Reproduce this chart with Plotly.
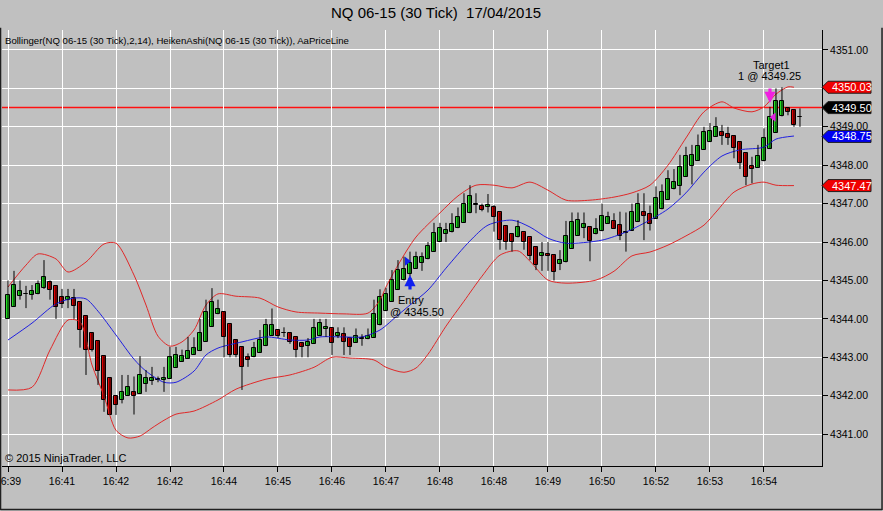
import plotly.graph_objects as go

# Heiken Ashi bars, NQ 06-15 (30 Tick)
bar_index = list(range(133))

opens = [
    4344.00, 4344.31, 4344.60, 4344.64, 4344.63, 4344.66, 4344.80, 4344.95, 4344.85, 4344.58,
    4344.50, 4344.54, 4344.43, 4344.07, 4343.64, 4343.42, 4343.03, 4342.47, 4342.00, 4341.89,
    4341.99, 4342.10, 4342.05, 4342.30, 4342.38, 4342.42, 4342.41, 4342.44, 4342.72, 4342.88,
    4342.96, 4343.06, 4343.16, 4343.40, 4343.80, 4344.12, 4344.19, 4343.86, 4343.46, 4343.28,
    4343.02, 4343.00, 4343.12, 4343.29, 4343.56, 4343.70, 4343.63, 4343.64, 4343.52, 4343.36,
    4343.30, 4343.35, 4343.56, 4343.73, 4343.75, 4343.56, 4343.60, 4343.50, 4343.38, 4343.48,
    4343.47, 4343.51, 4343.83, 4344.20, 4344.45, 4344.75, 4345.00, 4345.16, 4345.31, 4345.45,
    4345.55, 4345.75, 4346.00, 4346.20, 4346.25, 4346.36, 4346.50, 4346.75, 4346.97, 4346.95,
    4346.92, 4346.92, 4346.77, 4346.42, 4346.22, 4346.12, 4346.25, 4346.12, 4345.88, 4345.64,
    4345.69, 4345.66, 4345.42, 4345.47, 4345.82, 4346.16, 4346.36, 4346.40, 4346.20, 4346.28,
    4346.48, 4346.56, 4346.45, 4346.24, 4346.29, 4346.52, 4346.77, 4346.72, 4346.60, 4346.87,
    4347.10, 4347.37, 4347.47, 4347.70, 4347.97, 4348.11, 4348.40, 4348.60, 4348.74, 4348.87,
    4348.82, 4348.76, 4348.60, 4348.32, 4347.99, 4347.94, 4348.10, 4348.42, 4348.85, 4349.27,
    4349.48, 4349.43, 4349.25,
]
highs = [
    4345.00, 4345.25, 4345.00, 4344.86, 4344.88, 4345.00, 4345.53, 4345.00, 4344.85, 4344.78,
    4344.78, 4344.78, 4344.43, 4344.07, 4343.64, 4343.42, 4343.03, 4342.47, 4342.00, 4342.54,
    4342.54, 4342.50, 4343.03, 4342.67, 4342.75, 4342.50, 4342.75, 4343.27, 4343.27, 4343.20,
    4343.53, 4343.52, 4344.00, 4344.50, 4344.80, 4344.50, 4344.19, 4343.86, 4343.46, 4343.28,
    4343.10, 4343.40, 4343.71, 4344.00, 4344.27, 4343.70, 4343.78, 4343.64, 4343.52, 4343.40,
    4343.50, 4344.00, 4344.00, 4344.00, 4343.75, 4343.78, 4343.78, 4343.50, 4343.75, 4343.60,
    4343.75, 4344.50, 4344.77, 4344.80, 4345.27, 4345.53, 4345.62, 4345.75, 4345.75, 4345.73,
    4346.00, 4346.50, 4346.50, 4346.50, 4346.75, 4346.90, 4347.27, 4347.48, 4347.27, 4347.00,
    4347.25, 4346.96, 4346.77, 4346.42, 4346.22, 4346.57, 4346.25, 4346.12, 4345.88, 4346.00,
    4346.00, 4345.66, 4345.79, 4346.55, 4346.77, 4346.77, 4346.77, 4346.40, 4346.62, 4347.00,
    4346.79, 4346.75, 4346.79, 4346.77, 4347.00, 4347.27, 4347.27, 4346.95, 4347.45, 4347.50,
    4347.87, 4347.90, 4348.27, 4348.48, 4348.53, 4348.80, 4349.00, 4349.10, 4349.25, 4349.05,
    4349.00, 4348.76, 4348.60, 4348.32, 4348.22, 4348.53, 4348.96, 4349.52, 4350.00, 4350.03,
    4349.50, 4349.45, 4349.48,
]
lows = [
    4344.00, 4344.31, 4344.50, 4344.28, 4344.50, 4344.64, 4344.78, 4344.50, 4344.00, 4344.28,
    4344.28, 4344.00, 4343.25, 4342.54, 4343.15, 4342.28, 4341.58, 4341.50, 4341.50, 4341.80,
    4341.99, 4341.51, 4342.05, 4342.10, 4342.28, 4342.35, 4342.10, 4342.44, 4342.72, 4342.88,
    4342.96, 4343.06, 4343.16, 4343.40, 4343.80, 4344.12, 4343.00, 4343.00, 4343.00, 4342.15,
    4342.75, 4343.00, 4343.12, 4343.29, 4343.56, 4343.50, 4343.53, 4343.35, 4343.00, 4343.00,
    4343.00, 4343.35, 4343.56, 4343.53, 4343.06, 4343.50, 4343.06, 4343.06, 4343.38, 4343.30,
    4343.47, 4343.51, 4343.83, 4344.20, 4344.45, 4344.75, 4345.00, 4345.10, 4345.31, 4345.25,
    4345.55, 4345.75, 4346.00, 4346.00, 4346.25, 4346.36, 4346.50, 4346.75, 4346.75, 4346.80,
    4346.77, 4346.27, 4345.80, 4345.80, 4345.75, 4346.12, 4345.80, 4345.53, 4345.27, 4345.25,
    4345.25, 4345.00, 4345.27, 4345.47, 4345.82, 4346.16, 4346.10, 4345.50, 4346.20, 4346.28,
    4346.48, 4346.34, 4346.05, 4345.75, 4346.29, 4346.52, 4346.05, 4346.30, 4346.60, 4346.85,
    4347.10, 4347.37, 4347.22, 4347.70, 4347.50, 4348.11, 4348.40, 4348.60, 4348.74, 4348.53,
    4348.53, 4348.18, 4347.90, 4347.48, 4347.53, 4347.94, 4348.10, 4348.42, 4348.85, 4349.27,
    4349.30, 4349.00, 4349.00,
]
closes = [
    4344.62, 4344.88, 4344.72, 4344.64, 4344.73, 4344.90, 4345.10, 4344.76, 4344.30, 4344.40,
    4344.58, 4344.33, 4343.70, 4343.20, 4343.20, 4342.64, 4341.90, 4341.51, 4341.77, 4342.09,
    4342.22, 4342.00, 4342.54, 4342.45, 4342.45, 4342.42, 4342.47, 4343.00, 4343.07, 4343.03,
    4343.16, 4343.25, 4343.64, 4344.19, 4344.45, 4344.27, 4343.52, 4343.06, 4343.06, 4342.75,
    4342.94, 4343.25, 4343.45, 4343.84, 4343.84, 4343.56, 4343.63, 4343.40, 4343.20, 4343.26,
    4343.39, 4343.75, 4343.88, 4343.78, 4343.38, 4343.64, 4343.40, 4343.26, 4343.56, 4343.48,
    4343.56, 4344.14, 4344.58, 4344.66, 4345.00, 4345.27, 4345.31, 4345.45, 4345.62, 4345.60,
    4345.90, 4346.23, 4346.37, 4346.31, 4346.47, 4346.64, 4347.00, 4347.20, 4346.97, 4346.83,
    4346.96, 4346.64, 4346.05, 4346.00, 4346.00, 4346.38, 4346.00, 4345.64, 4345.40, 4345.71,
    4345.64, 4345.21, 4345.53, 4346.16, 4346.51, 4346.57, 4346.46, 4346.03, 4346.33, 4346.68,
    4346.64, 4346.34, 4346.16, 4346.24, 4346.77, 4347.00, 4346.68, 4346.47, 4347.15, 4347.30,
    4347.63, 4347.57, 4347.95, 4348.24, 4348.27, 4348.51, 4348.87, 4348.89, 4349.00, 4348.77,
    4348.70, 4348.44, 4348.05, 4347.70, 4347.89, 4348.25, 4348.70, 4349.25, 4349.68, 4349.68,
    4349.38, 4349.06, 4349.25,
]

# Bollinger(2,14) read at a subset of bars
upper_bars = [0, 3, 5, 8, 10, 13, 16, 18, 21, 23, 25, 27, 29, 31, 33, 35, 38, 42, 45, 48,
              52, 56, 60, 62, 63, 65, 68, 72, 75, 78, 81, 84, 87, 90, 93, 97, 101, 104, 107, 110,
              113, 116, 119, 121, 124, 126, 128, 130, 131]
upper_vals = [4344.83, 4345.40, 4345.69, 4345.56, 4345.22, 4345.48, 4345.95, 4345.97, 4345.14, 4344.36,
              4343.55, 4343.29, 4343.40, 4343.71, 4344.36, 4344.65, 4344.59, 4344.54, 4344.31, 4344.18,
              4344.15, 4344.13, 4344.15, 4344.49, 4344.83, 4345.40, 4346.13, 4346.76, 4347.20, 4347.48,
              4347.48, 4347.41, 4347.56, 4347.35, 4347.09, 4347.09, 4347.17, 4347.28, 4347.48, 4348.00,
              4348.71, 4349.39, 4349.65, 4349.49, 4349.39, 4349.52, 4349.85, 4350.04, 4350.03]
middle_bars = [0, 4, 8, 11, 13, 15, 18, 21, 23, 26, 28, 31, 33, 35, 39, 43, 47, 50, 52, 56,
               59, 62, 65, 67, 70, 73, 77, 80, 84, 87, 90, 93, 99, 103, 106, 110, 113, 116, 119, 122,
               126, 128, 131]
middle_vals = [4343.45, 4343.89, 4344.39, 4344.54, 4344.52, 4344.20, 4343.58, 4342.95, 4342.64, 4342.35,
               4342.35, 4342.64, 4343.06, 4343.24, 4343.40, 4343.53, 4343.45, 4343.45, 4343.53, 4343.53,
               4343.53, 4343.71, 4344.10, 4344.36, 4344.75, 4345.32, 4346.03, 4346.44, 4346.57, 4346.39,
               4346.10, 4345.97, 4346.05, 4346.26, 4346.49, 4346.86, 4347.28, 4347.82, 4348.24, 4348.40,
               4348.47, 4348.68, 4348.76]
lower_bars = [0, 4, 7, 10, 12, 14, 16, 18, 20, 22, 24, 26, 28, 31, 35, 38, 43, 47, 51, 54,
              57, 61, 63, 66, 68, 70, 73, 76, 79, 82, 85, 87, 90, 93, 98, 101, 104, 107, 110, 113,
              116, 118, 121, 124, 126, 128, 131]
lower_vals = [4342.15, 4342.22, 4343.19, 4343.97, 4343.92, 4342.80, 4341.99, 4341.10, 4340.90, 4340.95,
              4341.16, 4341.36, 4341.52, 4341.60, 4341.89, 4342.17, 4342.43, 4342.54, 4342.74, 4343.00,
              4342.98, 4342.93, 4342.74, 4342.61, 4342.72, 4343.08, 4343.81, 4344.46, 4345.11, 4345.66,
              4345.77, 4345.50, 4345.01, 4344.93, 4345.01, 4345.24, 4345.64, 4345.74, 4345.92, 4346.16,
              4346.44, 4346.78, 4347.30, 4347.51, 4347.56, 4347.48, 4347.47]

# axis ticks
tick_bars = [0, 9, 18, 27, 36, 45, 54, 63, 72, 81, 90, 99, 108, 117, 126]
tick_labels = ["16:39", "16:41", "16:42", "16:42", "16:44", "16:45", "16:46", "16:47",
               "16:48", "16:48", "16:49", "16:50", "16:52", "16:53", "16:54"]
price_ticks = [4341, 4342, 4343, 4344, 4345, 4346, 4347, 4348, 4349, 4350, 4351]
# 4350.00 sits under the 4350.03 marker in the original, so no text there
price_tick_text = ["4341.00", "4342.00", "4343.00", "4344.00", "4345.00", "4346.00",
                   "4347.00", "4348.00", "4349.00", "", "4351.00"]

# right-axis price markers
tag_values = [4350.03, 4349.50, 4348.75, 4347.47]
tag_colors = ["#F00000", "#000000", "#0000F0", "#F00000"]
last_price = 4349.50

# trade markers
entry_bar, entry_price = 67, 4345.50
target_bar, target_price = 127, 4349.25

BG = "#C0C0C0"
UP = "#22E022"
DOWN = "#E00000"
FONT = "Arial, Liberation Sans, sans-serif"

# wicks
wick_x, wick_y = [], []
for i, h, l in zip(bar_index, highs, lows):
    wick_x += [i, i, None]
    wick_y += [l, h, None]

# bodies
body_base, body_h, body_col = [], [], []
for o, c in zip(opens, closes):
    body_base.append(min(o, c))
    body_h.append(max(abs(c - o), 0.015))
    body_col.append(UP if c > o else (DOWN if c < o else "black"))

fig = go.Figure()

fig.add_trace(go.Scatter(x=upper_bars, y=upper_vals, mode="lines",
                         line=dict(color="#E02828", width=1, shape="spline", smoothing=0.8),
                         hoverinfo="skip"))
fig.add_trace(go.Scatter(x=lower_bars, y=lower_vals, mode="lines",
                         line=dict(color="#E02828", width=1, shape="spline", smoothing=0.8),
                         hoverinfo="skip"))
fig.add_trace(go.Scatter(x=middle_bars, y=middle_vals, mode="lines",
                         line=dict(color="#2020E0", width=1, shape="spline", smoothing=0.8),
                         hoverinfo="skip"))

fig.add_trace(go.Scatter(x=wick_x, y=wick_y, mode="lines",
                         line=dict(color="black", width=1), hoverinfo="skip"))
fig.add_trace(go.Bar(x=bar_index, y=body_h, base=body_base, width=0.68,
                     marker=dict(color=body_col, line=dict(color="black", width=1))))

# small entry / target markers
fig.add_trace(go.Scatter(x=[entry_bar - 0.5], y=[entry_price], mode="markers",
                         marker=dict(symbol="triangle-right", size=8, color="#1020F0")))
fig.add_trace(go.Scatter(x=[target_bar + 0.6], y=[target_price], mode="markers",
                         marker=dict(symbol="triangle-left", size=8, color="#E020E0")))

shapes = [
    # AaPriceLine
    dict(type="line", xref="paper", x0=0, x1=1, yref="y", y0=last_price, y1=last_price,
         line=dict(color="#FF1010", width=1.5), layer="below"),
    # outer frame
    dict(type="line", xref="paper", x0=-0.0018, x1=-0.0018, yref="paper", y0=-0.101, y1=1.005,
         line=dict(color="#202020", width=1.5)),
    dict(type="line", xref="paper", x0=1.0732, x1=1.0732, yref="paper", y0=-0.101, y1=1.005,
         line=dict(color="#202020", width=1.5)),
    dict(type="line", xref="paper", x0=-0.0018, x1=1.0732, yref="paper", y0=-0.1, y1=-0.1,
         line=dict(color="#202020", width=1.5)),
]
annotations = []
for val, col in zip(tag_values, tag_colors):
    shapes.append(dict(type="path", xref="paper", yref="y", xsizemode="pixel", ysizemode="pixel",
                       xanchor=1, yanchor=val, path="M 0 0 L 6 6 L 49 6 L 49 -6 L 6 -6 Z",
                       fillcolor=col, line=dict(color="#202020", width=1), layer="above"))
    annotations.append(dict(xref="paper", x=1, xanchor="left", xshift=8, yref="y", y=val,
                            yanchor="middle", text=f"{val:.2f}", showarrow=False,
                            font=dict(color="white", size=11, family=FONT)))

# trade arrows and texts
annotations += [
    dict(x=entry_bar, y=4345.14, ax=0, ay=16, text="", showarrow=True, arrowhead=2,
         arrowsize=0.7, arrowwidth=3.2, arrowcolor="#1020F0", standoff=0),
    dict(x=target_bar, y=4349.62, ax=0, ay=-16, text="", showarrow=True, arrowhead=2,
         arrowsize=0.7, arrowwidth=3.2, arrowcolor="#F020E0", standoff=0),
    dict(x=64.6, y=4344.49, xanchor="left", yanchor="middle", text="Entry", showarrow=False,
         font=dict(size=11)),
    dict(x=63.3, y=4344.18, xanchor="left", yanchor="middle", text="@ 4345.50", showarrow=False,
         font=dict(size=11)),
    dict(x=127.2, y=4350.61, yanchor="middle", text="Target1", showarrow=False, font=dict(size=11)),
    dict(x=127.0, y=4350.32, yanchor="middle", text="1 @ 4349.25", showarrow=False, font=dict(size=11)),
    dict(xref="paper", yref="paper", x=0.529, y=1.039, xanchor="center", yanchor="middle",
         text="NQ 06-15 (30 Tick) \u00a017/04/2015",
         showarrow=False, font=dict(size=15, family=FONT, color="black")),
    dict(xref="paper", yref="paper", x=0.001, y=0.977, xanchor="left", yanchor="middle",
         text="Bollinger(NQ 06-15 (30 Tick),2,14), HeikenAshi(NQ 06-15 (30 Tick)), AaPriceLine",
         showarrow=False, font=dict(size=9.6)),
    dict(xref="paper", yref="paper", x=0.001, y=0.018, xanchor="left", yanchor="middle",
         text="\u00a9 2015 NinjaTrader, LLC", showarrow=False, font=dict(size=11)),
]

fig.update_layout(
    width=883, height=511,
    margin=dict(l=2, r=61, t=30, b=45, autoexpand=False),
    paper_bgcolor=BG, plot_bgcolor=BG,
    showlegend=False,
    font=dict(family=FONT, size=10.5, color="black"),
    shapes=shapes, annotations=annotations,
    bargap=0,
)
fig.update_xaxes(range=[-1, 135.67], tickvals=tick_bars, ticktext=tick_labels,
                 ticklabeloverflow="allow", automargin=False,
                 showgrid=True, gridcolor="white", gridwidth=1, zeroline=False,
                 ticks="outside", ticklen=5, tickcolor="black",
                 showline=True, linecolor="black", linewidth=1, fixedrange=True)
fig.update_yaxes(side="right", range=[4340.17, 4351.52], tickvals=price_ticks,
                 ticktext=price_tick_text, automargin=False,
                 showgrid=True, gridcolor="white", gridwidth=1, zeroline=False,
                 ticks="outside", ticklen=5, tickcolor="black",
                 showline=True, linecolor="black", linewidth=1, fixedrange=True)

# page margin off so the figure sits at the window's top-left corner
fig.write_html("out.html", config={"displayModeBar": False},
               post_script="document.body.style.margin='0';")
